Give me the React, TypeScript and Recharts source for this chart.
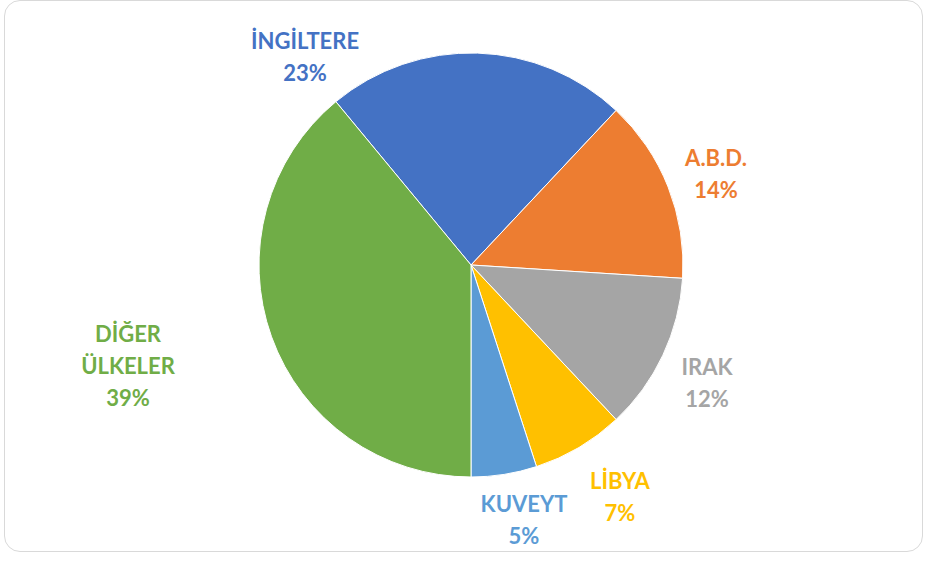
import React from 'react';
import { PieChart, Pie, Cell } from 'recharts';

// Country shares (percent)
const countries = ['İNGİLTERE', 'A.B.D.', 'IRAK', 'LİBYA', 'KUVEYT', 'DİĞER ÜLKELER'];
const shares = [23, 14, 12, 7, 5, 39];
const COLORS = ['#4472C4', '#ED7D31', '#A5A5A5', '#FFC000', '#5B9BD5', '#70AD47'];

const pieData = countries.map((name, i) => ({ name, value: shares[i] }));

// label block anchors relative to the pie centre (manually placed, like the original)
const LABEL_OFFSET: Record<string, [number, number]> = {
  'İNGİLTERE': [-166, -225],
  'A.B.D.': [245, -108],
  'IRAK': [236, 101],
  'LİBYA': [149, 215],
  'KUVEYT': [53, 238],
  'DİĞER ÜLKELER': [-343, 68],
};

const renderLabel = (props: any) => {
  const { cx, cy, name, percent, index } = props;
  const [dx, dy] = LABEL_OFFSET[name] || [0, 0];
  const lines = name === 'DİĞER ÜLKELER' ? ['DİĞER', 'ÜLKELER'] : [name];
  lines.push(`${Math.round(percent * 100)}%`);
  return (
    <text
      x={cx + dx}
      y={cy + dy}
      fill={COLORS[index % COLORS.length]}
      textAnchor="middle"
      dominantBaseline="central"
      style={{ fontFamily: 'Lato, "Open Sans", sans-serif', fontWeight: 700, fontSize: 22 }}
    >
      {lines.map((l, i) => (
        <tspan key={i} x={cx + dx} dy={i === 0 ? 0 : 32}>{l}</tspan>
      ))}
    </text>
  );
};

export default function App() {
  return (
    <div style={{ position: 'absolute', left: 0, top: 0, width: 927, height: 561, background: '#fff' }}>
      <div
        style={{
          position: 'absolute', left: 4, top: 0, width: 919, height: 552,
          border: '1.5px solid #d9d9d9', borderRadius: 16, boxSizing: 'border-box',
        }}
      />
      <PieChart width={927} height={561} margin={{ top: 0, right: 0, bottom: 0, left: 0 }} style={{ position: 'absolute', left: 0, top: 0 }}>
        <Pie
          data={pieData}
          dataKey="value"
          nameKey="name"
          cx={471}
          cy={265}
          outerRadius={212}
          startAngle={129.6}
          endAngle={-230.4}
          stroke="#fff"
          strokeWidth={1}
          label={renderLabel}
          labelLine={false}
          isAnimationActive={false}
        >
          {pieData.map((entry, index) => (
            <Cell key={`cell-${index}`} fill={COLORS[index % COLORS.length]} />
          ))}
        </Pie>
      </PieChart>
    </div>
  );
}
